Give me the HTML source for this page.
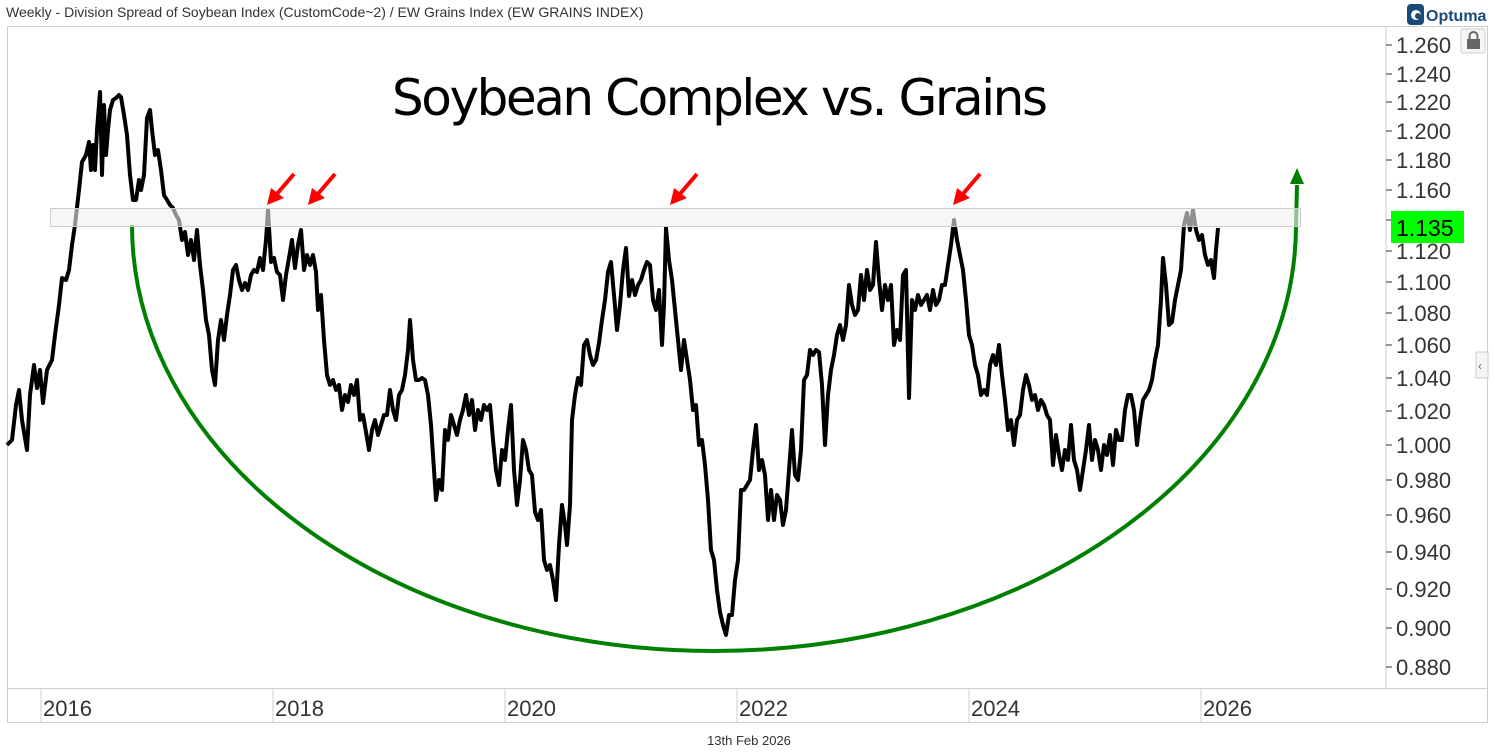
<!DOCTYPE html>
<html><head><style>
body{margin:0;background:#fff;}
svg{display:block;font-family:"Liberation Sans",sans-serif;}
</style></head><body>
<svg width="1494" height="756" viewBox="0 0 1494 756" xmlns="http://www.w3.org/2000/svg">
<rect width="1494" height="756" fill="#fff"/>
<text x="6" y="17" font-size="14" fill="#333">Weekly - Division Spread of Soybean Index (CustomCode~2) / EW Grains Index (EW GRAINS INDEX)</text>
<rect x="1407" y="4" width="17" height="21" rx="4" fill="#1a4a7a"/>
<circle cx="1416" cy="15" r="5" fill="#fff"/><circle cx="1418" cy="16" r="3" fill="#1a4a7a"/>
<text x="1426" y="21" font-size="16" font-weight="bold" fill="#1a4a7a">Optuma</text>
<rect x="7.5" y="26.5" width="1480" height="696" fill="none" stroke="#ccc"/>
<line x1="1386" y1="26" x2="1386" y2="688" stroke="#ccc"/>
<line x1="7" y1="688.5" x2="1487" y2="688.5" stroke="#ccc"/>
<g stroke="#ccc"><line x1="41" y1="688" x2="41" y2="722"/><line x1="273" y1="688" x2="273" y2="722"/><line x1="505" y1="688" x2="505" y2="722"/><line x1="737" y1="688" x2="737" y2="722"/><line x1="969" y1="688" x2="969" y2="722"/><line x1="1201" y1="688" x2="1201" y2="722"/></g>
<g font-size="22" fill="#333"><text x="43" y="716">2016</text><text x="275" y="716">2018</text><text x="507" y="716">2020</text><text x="739" y="716">2022</text><text x="971" y="716">2024</text><text x="1203" y="716">2026</text></g>
<text x="749" y="745" font-size="13" fill="#333" text-anchor="middle">13th Feb 2026</text>
<rect x="1461" y="29" width="24" height="24" rx="2" fill="#f5f5f5" stroke="#ccc"/>
<rect x="1467" y="39" width="13" height="10" fill="#666"/><path d="M1469.5 39v-3a4 4 0 0 1 8 0v3" fill="none" stroke="#666" stroke-width="2"/>
<rect x="1476" y="352" width="12" height="26" fill="#f5f5f5" stroke="#ccc"/><text x="1478" y="370" font-size="12" fill="#666">‹</text>
<g font-size="22" fill="#333" id="yl"></g>
<g stroke="#333" id="yt"></g>
<text x="720" y="115" font-size="50" fill="#000" text-anchor="middle" font-family="DejaVu Sans, sans-serif" textLength="656">Soybean Complex vs. Grains</text>
<path d="M132 225 A582 426 0 0 0 1296 225 L1297 185" fill="none" stroke="#008000" stroke-width="4"/>
<polygon points="1290,184 1304,184 1297,168" fill="#008000"/>
<polyline fill="none" stroke="#000" stroke-width="4" stroke-linejoin="round" points="7,445 12,440 16,405 19,390 22,420 27,450 30,395 34,365 37,388 40,370 43,403 47,370 52,360 55,335 59,305 62,278 66,280 69,270 72,245 75,225 79,190 82,162 86,155 89,142 91,170 93,145 95,170 97,130 100,92 102,175 104,105 106,155 108,130 110,110 113,100 116,98 119,95 121,97 124,115 127,135 130,175 133,200 136,200 139,180 141,190 144,175 147,118 150,110 152,130 155,155 158,150 161,170 164,195 167,200 170,205 173,208 176,215 179,220 182,240 185,232 188,255 191,240 194,260 197,230 200,265 203,290 206,320 209,335 212,370 215,385 218,340 221,320 224,340 227,315 230,295 233,270 236,265 239,280 242,290 245,283 248,290 251,275 254,270 257,272 260,258 263,270 266,240 268,210 271,262 274,258 277,272 280,275 283,300 286,275 289,258 292,240 295,268 298,245 301,230 304,270 307,255 310,265 313,255 316,272 318,310 321,295 324,340 327,375 330,385 333,380 336,390 339,385 342,410 345,395 348,402 351,385 354,395 357,380 360,420 363,415 366,432 369,450 372,430 375,420 378,435 381,425 384,415 387,415 390,390 393,410 396,420 399,395 402,390 405,375 408,350 410,320 413,360 416,380 419,380 422,378 425,380 428,395 431,425 434,470 436,500 439,480 442,490 445,430 448,440 451,415 454,425 457,435 460,420 463,410 466,395 469,415 472,400 475,430 478,410 481,420 484,405 487,410 490,405 493,440 496,470 499,485 502,450 505,460 508,430 511,405 514,470 517,505 520,480 523,440 526,450 529,470 532,475 535,512 538,520 541,510 544,560 547,570 550,565 553,580 556,600 559,545 562,505 565,525 567,545 570,505 572,420 575,395 578,378 581,385 584,345 587,340 590,355 593,365 596,360 599,343 602,320 605,300 608,272 611,262 614,295 617,330 620,305 623,270 626,248 629,296 632,280 635,295 638,285 641,280 644,270 647,262 650,265 653,300 656,310 659,290 662,345 664,305 666,228 669,260 672,280 675,310 678,340 681,370 684,340 687,360 690,380 693,410 696,405 699,445 702,440 705,465 708,500 711,550 714,560 717,590 720,612 723,625 726,635 729,615 732,615 735,580 738,560 741,490 744,490 747,485 750,480 753,450 756,425 759,470 762,460 765,475 768,520 771,490 774,520 777,495 780,500 783,525 786,510 789,470 792,430 795,475 798,480 801,450 804,380 807,375 810,350 813,355 816,350 819,352 822,385 825,445 828,395 831,370 834,355 837,335 840,325 843,340 846,325 849,285 852,305 855,315 858,310 861,275 864,300 867,270 870,290 873,285 876,242 879,280 882,310 885,285 888,300 891,285 894,345 897,330 900,340 903,275 906,270 909,398 912,300 915,310 918,295 921,305 924,300 927,295 930,310 933,290 936,305 939,300 942,285 945,285 948,265 951,245 954,220 957,240 960,255 963,270 966,300 969,335 972,345 975,365 978,375 981,395 984,390 987,395 990,365 993,355 996,365 999,345 1002,375 1005,400 1008,430 1011,420 1014,445 1017,420 1020,415 1023,390 1026,375 1029,385 1032,400 1035,395 1038,410 1041,400 1044,405 1047,415 1050,420 1053,465 1056,435 1059,455 1062,470 1065,450 1068,460 1071,425 1074,460 1077,470 1080,490 1083,470 1086,450 1089,425 1092,460 1095,440 1098,450 1101,470 1104,445 1107,455 1110,435 1113,465 1116,430 1119,440 1122,440 1125,410 1128,395 1131,395 1134,410 1137,445 1140,420 1143,400 1146,395 1149,390 1152,380 1155,360 1158,345 1161,300 1163,258 1166,285 1169,325 1172,322 1175,300 1178,285 1181,270 1184,225 1187,213 1190,230 1193,210 1196,230 1199,240 1202,235 1205,255 1208,265 1211,260 1214,278 1216,250 1218,228"/>
<rect x="50.5" y="208.5" width="1250" height="18" fill="#f0f0f0" fill-opacity="0.6" stroke="#ccc"/>
<g stroke="#f00" stroke-width="4" fill="#f00">
<line x1="294" y1="174" x2="276" y2="195"/><polygon points="267,205 271,188 284,198" stroke="none"/>
<line x1="335" y1="174" x2="317" y2="195"/><polygon points="308,205 312,188 325,198" stroke="none"/>
<line x1="697" y1="174" x2="679" y2="195"/><polygon points="670,205 674,188 687,198" stroke="none"/>
<line x1="980" y1="174" x2="962" y2="195"/><polygon points="953,205 957,188 970,198" stroke="none"/>
</g>
<g font-size="22" fill="#333">
<text x="1396" y="53">1.260</text><text x="1396" y="82">1.240</text><text x="1396" y="110">1.220</text><text x="1396" y="139">1.200</text><text x="1396" y="168">1.180</text><text x="1396" y="198">1.160</text><text x="1396" y="259">1.120</text><text x="1396" y="290">1.100</text><text x="1396" y="321">1.080</text><text x="1396" y="353">1.060</text><text x="1396" y="386">1.040</text><text x="1396" y="419">1.020</text><text x="1396" y="453">1.000</text><text x="1396" y="488">0.980</text><text x="1396" y="523">0.960</text><text x="1396" y="560">0.940</text><text x="1396" y="597">0.920</text><text x="1396" y="636">0.900</text><text x="1396" y="675">0.880</text>
</g>
<g stroke="#333"><line x1="1386" y1="45" x2="1392" y2="45"/><line x1="1386" y1="74" x2="1392" y2="74"/><line x1="1386" y1="102" x2="1392" y2="102"/><line x1="1386" y1="131" x2="1392" y2="131"/><line x1="1386" y1="160" x2="1392" y2="160"/><line x1="1386" y1="190" x2="1392" y2="190"/><line x1="1386" y1="220" x2="1392" y2="220"/><line x1="1386" y1="251" x2="1392" y2="251"/><line x1="1386" y1="282" x2="1392" y2="282"/><line x1="1386" y1="313" x2="1392" y2="313"/><line x1="1386" y1="345" x2="1392" y2="345"/><line x1="1386" y1="378" x2="1392" y2="378"/><line x1="1386" y1="411" x2="1392" y2="411"/><line x1="1386" y1="445" x2="1392" y2="445"/><line x1="1386" y1="480" x2="1392" y2="480"/><line x1="1386" y1="515" x2="1392" y2="515"/><line x1="1386" y1="552" x2="1392" y2="552"/><line x1="1386" y1="589" x2="1392" y2="589"/><line x1="1386" y1="628" x2="1392" y2="628"/><line x1="1386" y1="667" x2="1392" y2="667"/></g>
<rect x="1391" y="211" width="73" height="32" fill="#00ff00"/>
<text x="1396" y="236" font-size="23" fill="#000">1.135</text>
</svg>
</body></html>
